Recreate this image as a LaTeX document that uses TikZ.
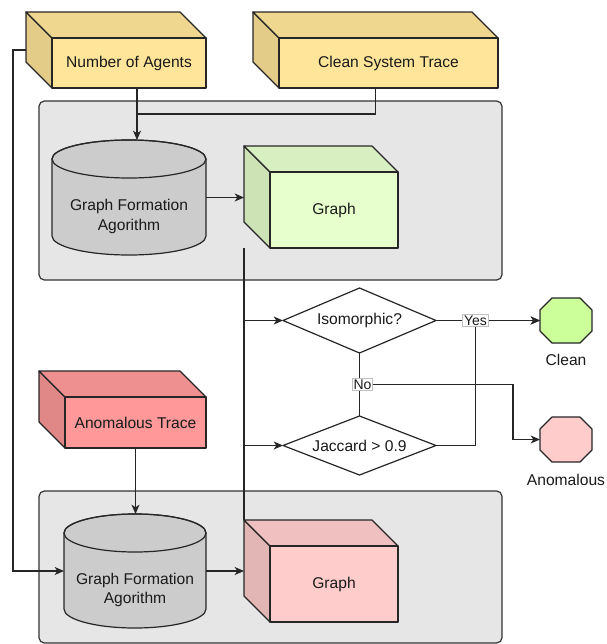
\documentclass[tikz,border=0pt]{standalone}
\usepackage{fontspec}
\setmainfont{Liberation Sans}
\usetikzlibrary{arrows.meta,calc,fit}
\definecolor{yfront}{HTML}{FFE599}
\definecolor{ytop}{HTML}{EFD78F}
\definecolor{yside}{HTML}{E3CB88}
\definecolor{gfront}{HTML}{E6FFCC}
\definecolor{gtop}{HTML}{D8F0C1}
\definecolor{gside}{HTML}{CDE3B6}
\definecolor{rfront}{HTML}{FF9999}
\definecolor{rtop}{HTML}{EF9090}
\definecolor{rside}{HTML}{E08787}
\definecolor{pfront}{HTML}{FFCCCC}
\definecolor{ptop}{HTML}{F0C0C0}
\definecolor{pside}{HTML}{E3B6B6}
\definecolor{cylfill}{HTML}{CCCCCC}
\definecolor{contfill}{HTML}{E6E6E6}
\definecolor{contline}{HTML}{333333}
\definecolor{octg}{HTML}{CCFF99}
\definecolor{octr}{HTML}{FFCCCC}
\definecolor{txtc}{HTML}{1A1A1A}
\tikzset{
 ln/.style={draw=black!85, line width=0.9pt},
 arr/.style={ln, -{Stealth[length=7pt,width=6pt,inset=2pt]}},
 bbox/.style={inner sep=0pt, outer sep=0pt},
 txt/.style={font=\fontsize{11.7}{14.5}\selectfont, text=txtc, align=center, inner sep=0pt},
 lbl/.style={font=\fontsize{10.5}{12}\selectfont, fill=white, draw=black!25, line width=0.5pt, inner sep=1pt, text=txtc},
 cont/.style={fill=contfill, draw=contline, rounded corners=4pt, line width=0.9pt},
 face/.style={draw=black!85, line width=0.9pt, line join=round},
}
\newcommand\mycube[9]{%
  \node[bbox, fit={(#2,#3) (#4,#5)}] (#1) {};
  \coordinate (#1-f) at ($(#1.north west)+(26,26)$);
  \filldraw[face, fill=#9] (#1.north west) -- (#1-f) -- ($(#1.south west)+(26,0)$) -- ($(#1.south west)+(0,-26)$) -- cycle;
  \filldraw[face, fill=#8] (#1.north west) -- ($(#1.north east)+(-26,0)$) -- ($(#1.north east)+(0,26)$) -- (#1-f) -- cycle;
  \filldraw[face, fill=#7] (#1-f) rectangle (#1.south east);
  \node[txt] (#1-t) at ($(#1-f)!0.5!(#1.south east)$) {#6};
}
\newcommand\mycyl[6]{%
  \node[bbox, fit={(#2,#3) (#4,#5)}] (#1) {};
  \pgfmathsetmacro\cylrx{(#4-#2)/2}
  \filldraw[face, fill=cylfill] ($(#1.north west)+(0,19)$) -- ($(#1.south west)+(0,-19)$) arc[start angle=180, end angle=0, x radius=\cylrx, y radius=19] -- ($(#1.north east)+(0,19)$) arc[start angle=0, end angle=-180, x radius=\cylrx, y radius=19] -- cycle;
  \draw[face] ($(#1.north)+(0,19)$) ellipse [x radius=\cylrx, y radius=19];
  \coordinate (#1-f) at ($(#1.north west)+(0,38)$);
  \node[txt] (#1-t) at ($(#1-f)!0.5!(#1.south east)$) {#6};
}
\newcommand\myoct[6]{%
  \node[bbox, fit={(#2,#3) (#4,#5)}] (#1) {};
  \filldraw[face, fill=#6] ($(#1.north west)+(12,0)$) -- ($(#1.north east)+(-12,0)$) -- ($(#1.north east)+(0,12)$) -- ($(#1.south east)+(0,-12)$) -- ($(#1.south east)+(-12,0)$) -- ($(#1.south west)+(12,0)$) -- ($(#1.south west)+(0,-12)$) -- ($(#1.north west)+(0,12)$) -- cycle;
}
\newcommand\mydiam[6]{%
  \node[bbox, fit={(#2,#3) (#4,#5)}] (#1) {};
  \filldraw[face, fill=white] (#1.west) -- (#1.north) -- (#1.east) -- (#1.south) -- cycle;
  \node[txt] (#1-t) at (#1.center) {#6};
}
\begin{document}
\begin{tikzpicture}[x=0.75pt,y=-0.75pt]
\useasboundingbox (0,0) rectangle (607,644);
% containers
\node[bbox, fit={(39,101) (502,280)}] (contA) {};
\draw[cont] (contA.north west) rectangle (contA.south east);
\node[bbox, fit={(39,491) (502,643)}] (contB) {};
\draw[cont] (contB.north west) rectangle (contB.south east);
% cubes
\mycube{agents}{26}{12}{206}{88}{Number of Agents}{yfront}{ytop}{yside}
\mycube{ctrace}{253}{12}{498}{88}{Clean System Trace}{yfront}{ytop}{yside}
\mycube{graphA}{244}{146}{398}{248}{Graph}{gfront}{gtop}{gside}
\mycube{anomT}{39}{371}{206}{448}{Anomalous Trace}{rfront}{rtop}{rside}
\mycube{graphB}{244}{520}{398}{622}{Graph}{pfront}{ptop}{pside}
% cylinders
\mycyl{cylA}{52}{140}{206}{255}{Graph Formation\\Agorithm}
\mycyl{cylB}{64}{514}{206}{628}{Graph Formation\\Agorithm}
% decisions
\mydiam{iso}{283}{288}{436}{353}{Isomorphic?}
\mydiam{jac}{283}{416}{436}{475}{Jaccard > 0.9}
% outcomes
\myoct{clean}{540}{298}{592}{343}{octg}
\myoct{anom}{540}{417}{592}{462}{octr}
\node[txt] (cleanl) at ($(clean.south)+(0,17)$) {Clean};
\node[txt] (anoml) at ($(anom.south)+(0,17.5)$) {Anomalous};
% connectors
\draw[arr] ($(agents.south east)+(-69,0)$) -- ($(cylA.north east)+(-69,0)$);
\draw[ln] (ctrace.south) |- ($(cylA.north east)+(-69,-26)$);
\draw[arr] (agents.west) -- ++(-13,0) |- (cylB.west);
\draw[arr] (anomT-t |- anomT.south) -- (anomT-t |- cylB.north);
\draw[arr] (cylA.east) -- (cylA.east -| graphA.west);
\draw[arr] (cylB.east) -- (cylB.east -| graphB.west);
\draw[ln] (graphA.south west) -- (graphB.north west);
\draw[arr] (graphA.south west |- iso.west) -- (iso.west);
\draw[arr] (graphA.south west |- jac.west) -- (jac.west);
\coordinate (yx) at ($(iso.east)!0.38!(clean.west)$);
\draw[arr] (jac.east) -| (yx) -- (clean.west);
\draw[arr] (iso.east) -- (clean.west) node[lbl, pos=0.38] (yes) {Yes};
\coordinate (nm) at ($(iso.south)!0.5!(jac.north)$);
\draw[arr] (nm) -| ($(anom.west)+(-27,0)$) -- (anom.west);
\draw[ln] (iso.south) -- (jac.north);
\node[lbl] (no) at ($(nm)+(3,0)$) {No};
\end{tikzpicture}
\end{document}
